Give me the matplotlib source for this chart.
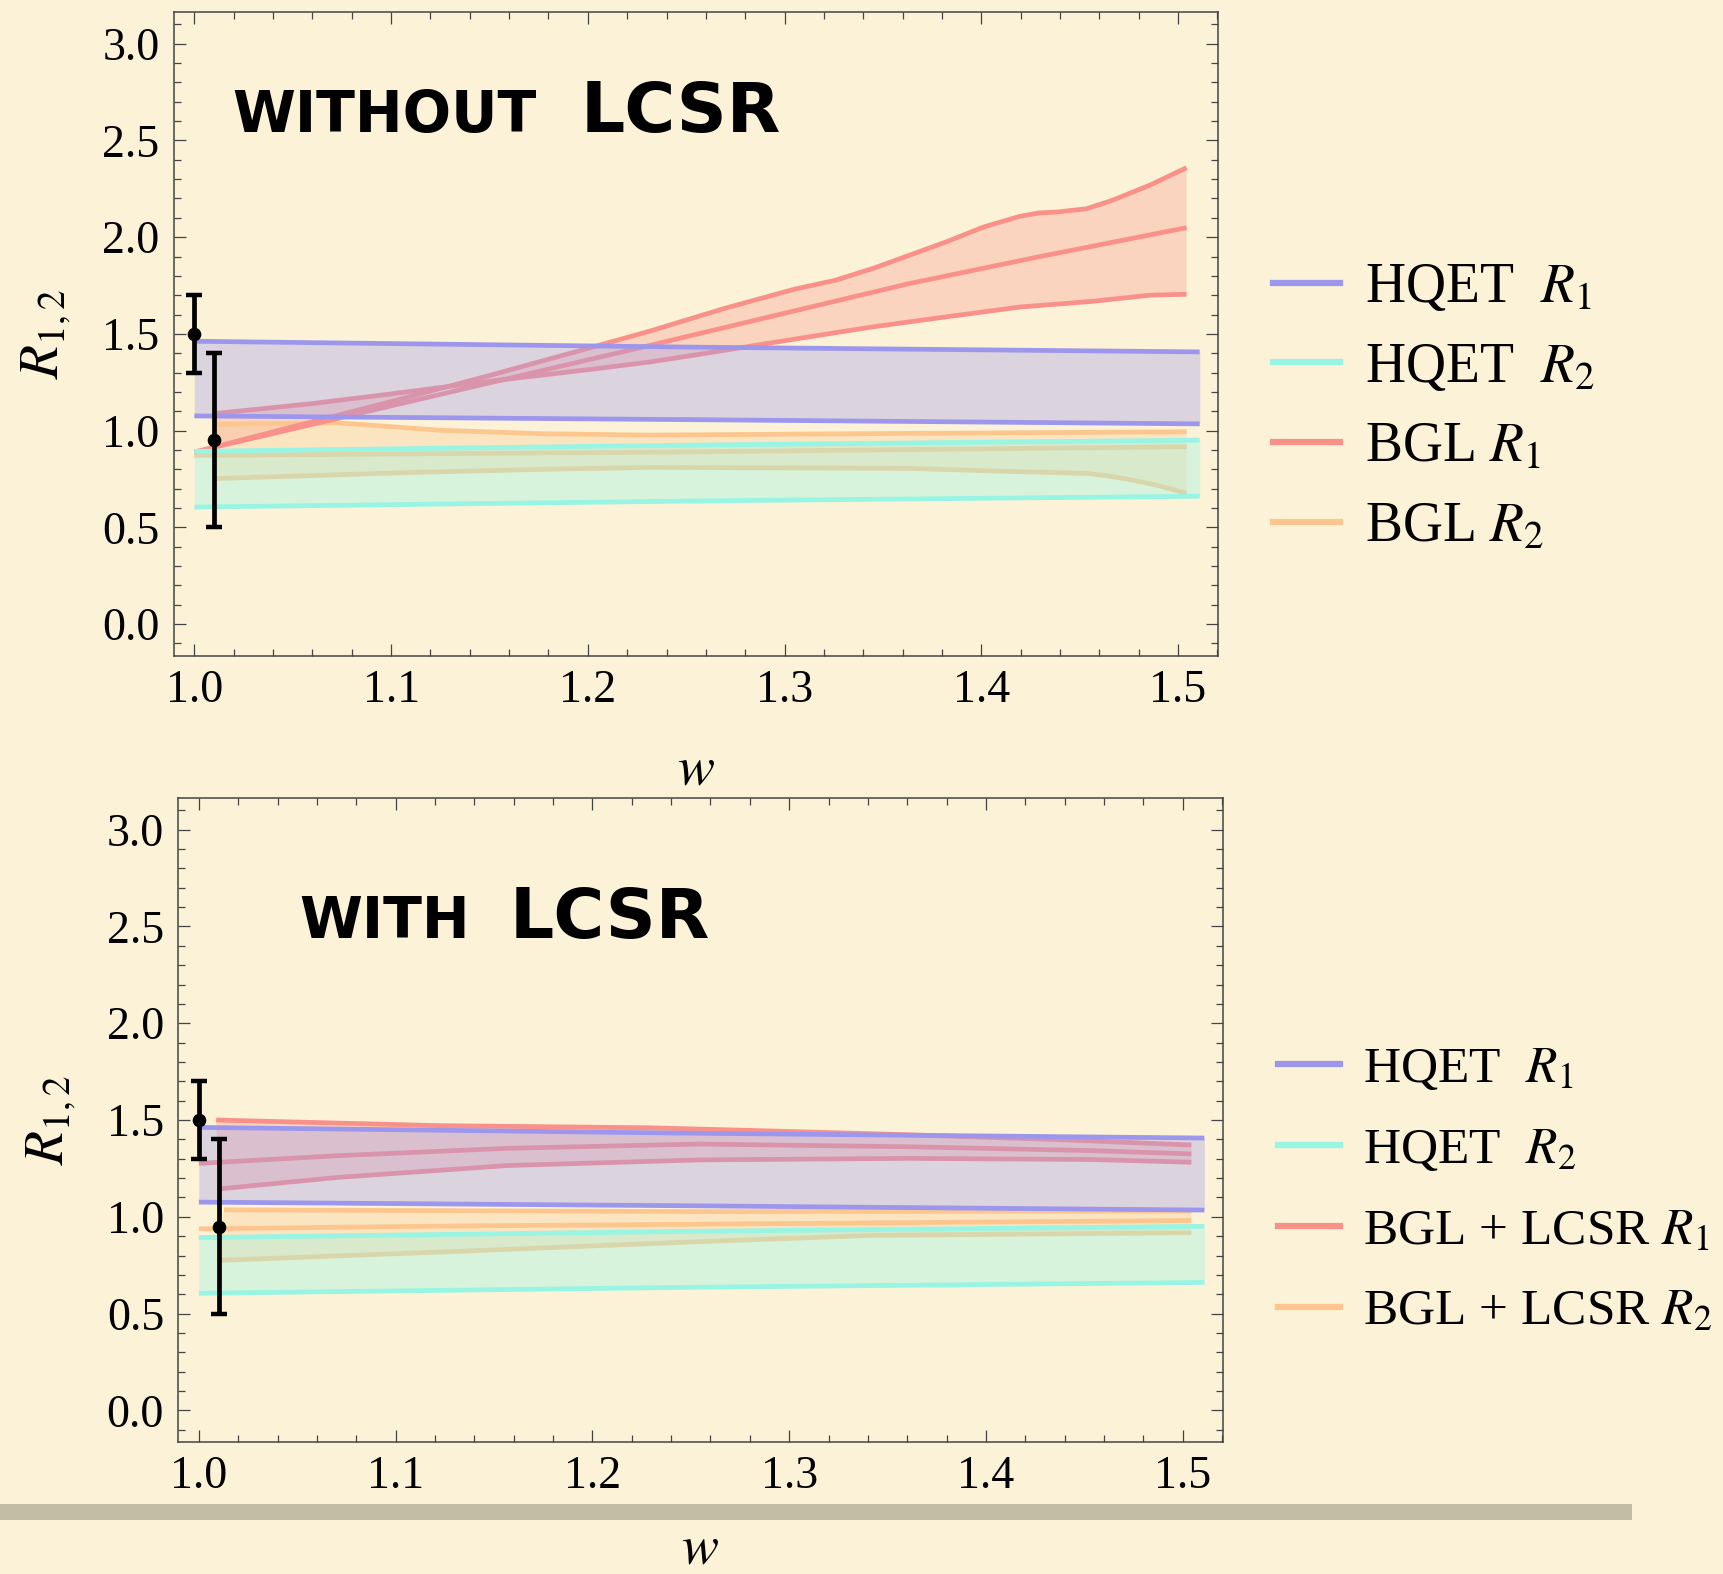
import matplotlib
matplotlib.use("Agg")
import matplotlib.pyplot as plt
from matplotlib.ticker import MultipleLocator
from matplotlib.patches import Rectangle
from matplotlib.lines import Line2D

plt.rcParams['font.family'] = ['Liberation Serif', 'DejaVu Serif']
plt.rcParams['mathtext.fontset'] = 'stix'

# ---------------- data ----------------
# experimental points
exp_w = [1.0, 1.01]
exp_r = [1.5, 0.95]
exp_err = [0.2, 0.45]

# HQET bands (same in both panels)
hqet_w = [1.0, 1.25, 1.511]
hqet_r1_hi = [1.462, 1.432, 1.407]
hqet_r1_lo = [1.076, 1.057, 1.035]
hqet_r2_hi = [0.893, 0.925, 0.951]
hqet_r2_lo = [0.605, 0.636, 0.661]

# BGL R1 (without LCSR)
bgl1_c_w = [1.0, 1.1, 1.2317, 1.303, 1.3633, 1.429, 1.5043]
bgl1_c = [0.89, 1.128, 1.441, 1.614, 1.76, 1.898, 2.049]
bgl1_hi_w = [1.01, 1.05, 1.1, 1.15, 1.2, 1.2317, 1.2692, 1.305, 1.3257, 1.3445,
             1.3633, 1.382, 1.401, 1.4197, 1.429, 1.4385, 1.4535, 1.4665, 1.4855, 1.5043]
bgl1_hi = [0.915, 1.02, 1.15, 1.285, 1.425, 1.515, 1.631, 1.731, 1.777, 1.837,
           1.906, 1.975, 2.052, 2.108, 2.125, 2.13, 2.147, 2.19, 2.268, 2.359]
bgl1_lo_w = [1.01, 1.06, 1.1, 1.15, 1.2, 1.2317, 1.257, 1.3069, 1.3445, 1.382,
             1.4197, 1.4573, 1.4855, 1.5043]
bgl1_lo = [1.088, 1.14, 1.19, 1.255, 1.315, 1.355, 1.395, 1.476, 1.536, 1.588,
           1.639, 1.669, 1.70, 1.705]

# BGL R2 (without LCSR)
bgl2_c_w = [1.0, 1.25, 1.5043]
bgl2_c = [0.872, 0.89, 0.917]
bgl2_hi_w = [1.01, 1.0735, 1.125, 1.1767, 1.2317, 1.35, 1.5043]
bgl2_hi = [1.033, 1.04, 1.002, 0.984, 0.977, 0.985, 0.994]
bgl2_lo_w = [1.01, 1.108, 1.1767, 1.2317, 1.3633, 1.4103, 1.4535, 1.465, 1.4762, 1.4912, 1.5043]
bgl2_lo = [0.752, 0.783, 0.80, 0.810, 0.805, 0.790, 0.779, 0.765, 0.746, 0.713, 0.676]

# BGL + LCSR R1
lc1_c_w = [1.0, 1.071, 1.157, 1.2543, 1.3604, 1.454, 1.5044]
lc1_c = [1.276, 1.316, 1.354, 1.376, 1.362, 1.342, 1.325]
lc1_hi_w = [1.0088, 1.1226, 1.2284, 1.2853, 1.3604, 1.4365, 1.5044]
lc1_hi = [1.50, 1.471, 1.46, 1.445, 1.424, 1.399, 1.371]
lc1_lo_w = [1.01, 1.071, 1.157, 1.2543, 1.3604, 1.454, 1.5044]
lc1_lo = [1.144, 1.204, 1.265, 1.294, 1.302, 1.296, 1.282]

# BGL + LCSR R2
lc2_c_w = [1.0, 1.1226, 1.2543, 1.5044]
lc2_c = [0.938, 0.952, 0.962, 0.981]
lc2_hi_w = [1.0128, 1.2543, 1.5044]
lc2_hi = [1.036, 1.027, 1.03]
lc2_lo_w = [1.01, 1.1226, 1.25, 1.3416, 1.5044]
lc2_lo = [0.775, 0.818, 0.87, 0.904, 0.918]

xticks = [1.0, 1.1, 1.2, 1.3, 1.4, 1.5]
yticks = [0.0, 0.5, 1.0, 1.5, 2.0, 2.5, 3.0]

labels_top = [r"HQET  $R_1$", r"HQET  $R_2$", r"BGL $R_1$", r"BGL $R_2$"]
labels_bot = [r"HQET  $R_1$", r"HQET  $R_2$", r"BGL + LCSR $R_1$", r"BGL + LCSR $R_2$"]

# ---------------- style ----------------
BG = '#FBF2D7'
C_BLUE = '#9C97EC'
C_CYAN = '#98F4E3'
C_RED = '#F9908A'
C_ORANGE = '#FCC68E'
LW = 3.4

fig = plt.figure(figsize=(17.23, 15.74), dpi=100, facecolor=BG)


def band(ax, w_hi, hi, w_lo, lo, color, alpha, z):
    xs = list(w_hi) + list(w_lo)[::-1]
    ys = list(hi) + list(lo)[::-1]
    ax.fill(xs, ys, color=color, alpha=alpha, lw=0, zorder=z)


def panel(ax, r1, r2, ylim, labels, lfs, lsp, leg_anchor, xpad):
    ax.set_facecolor(BG)
    (c1w, c1, h1w, h1, l1w, l1) = r1
    (c2w, c2, h2w, h2, l2w, l2) = r2
    # BGL bands (drawn below HQET)
    band(ax, h1w, h1, l1w, l1, C_RED, 0.30, 1)
    band(ax, h2w, h2, l2w, l2, C_ORANGE, 0.30, 1)
    for (ww, yy) in [(c2w, c2), (h2w, h2), (l2w, l2)]:
        ax.plot(ww, yy, color=C_ORANGE, lw=LW, solid_capstyle='butt', zorder=2)
    for (ww, yy) in [(c1w, c1), (h1w, h1), (l1w, l1)]:
        ax.plot(ww, yy, color=C_RED, lw=LW, solid_capstyle='butt', zorder=2)
    # HQET bands
    ax.fill_between(hqet_w, hqet_r1_lo, hqet_r1_hi, color='#A09BEB', alpha=0.35, lw=0, zorder=3)
    ax.fill_between(hqet_w, hqet_r2_lo, hqet_r2_hi, color='#98F5E4', alpha=0.35, lw=0, zorder=3)
    for yy in (hqet_r1_hi, hqet_r1_lo):
        ax.plot(hqet_w, yy, color=C_BLUE, lw=LW, solid_capstyle='butt', zorder=4)
    for yy in (hqet_r2_hi, hqet_r2_lo):
        ax.plot(hqet_w, yy, color=C_CYAN, lw=LW, solid_capstyle='butt', zorder=4)
    # data points
    ax.errorbar(exp_w, exp_r, yerr=exp_err, fmt='o', color='black', ms=8.8,
                elinewidth=3.4, capsize=5.8, capthick=3.2, zorder=6)

    ax.set_xlim(0.9894, 1.5203)
    ax.set_ylim(*ylim)
    ax.set_xticks(xticks)
    ax.set_yticks(yticks)
    ax.xaxis.set_minor_locator(MultipleLocator(0.02))
    ax.yaxis.set_minor_locator(MultipleLocator(0.1))
    ax.tick_params(which='both', direction='in', top=True, right=True,
                   color='#444444', width=0.9)
    ax.tick_params(which='major', length=8.3, labelsize=33, pad=10)
    ax.tick_params(which='minor', length=4.8)
    ax.set_xticklabels([f"{t:.1f}" for t in xticks])
    ax.set_yticklabels([f"{t:.1f}" for t in yticks])
    for s in ax.spines.values():
        s.set_color('#444444')
        s.set_linewidth(1.1)
    ax.set_xlabel(r"$w$", fontsize=40, labelpad=xpad)
    ax.set_ylabel(r"$R_{1,2}$", fontsize=40, labelpad=21)

    handles = [Line2D([], [], color=c, lw=4.5) for c in (C_BLUE, C_CYAN, C_RED, C_ORANGE)]
    fig.legend(handles, labels, loc='center left', bbox_to_anchor=leg_anchor,
               frameon=False, fontsize=lfs, handlelength=1.2, handletextpad=0.45,
               labelspacing=lsp, borderpad=0, borderaxespad=0)


ax1 = fig.add_axes([0.1007, 0.5832, 0.6062, 0.4092])
ax2 = fig.add_axes([0.1033, 0.0840, 0.6063, 0.4092])

panel(ax1, (bgl1_c_w, bgl1_c, bgl1_hi_w, bgl1_hi, bgl1_lo_w, bgl1_lo),
      (bgl2_c_w, bgl2_c, bgl2_hi_w, bgl2_hi, bgl2_lo_w, bgl2_lo),
      (-0.165, 3.164), labels_top, 40, 0.50, (0.7388, 0.7410), 23)
panel(ax2, (lc1_c_w, lc1_c, lc1_hi_w, lc1_hi, lc1_lo_w, lc1_lo),
      (lc2_c_w, lc2_c, lc2_hi_w, lc2_hi, lc2_lo_w, lc2_lo),
      (-0.162, 3.165), labels_bot, 37, 0.66, (0.7417, 0.2435), 18)

# panel titles
tkw = dict(family='DejaVu Sans', fontweight='bold', va='baseline', ha='center', color='black')
fig.text(0.2234, 0.9161, 'WITHOUT', fontsize=41, **tkw)
fig.text(0.3952, 0.9161, 'LCSR', fontsize=50, **tkw)
fig.text(0.2233, 0.4041, 'WITH', fontsize=41, **tkw)
fig.text(0.3537, 0.4041, 'LCSR', fontsize=50, **tkw)

# decorative grey rule near the bottom
fig.add_artist(Rectangle((0, 1 - 1520 / 1574), 1632 / 1723, 16 / 1574,
                         transform=fig.transFigure, color='#C3BDA6', lw=0))

fig.savefig('out.png', dpi=100, facecolor=BG)
